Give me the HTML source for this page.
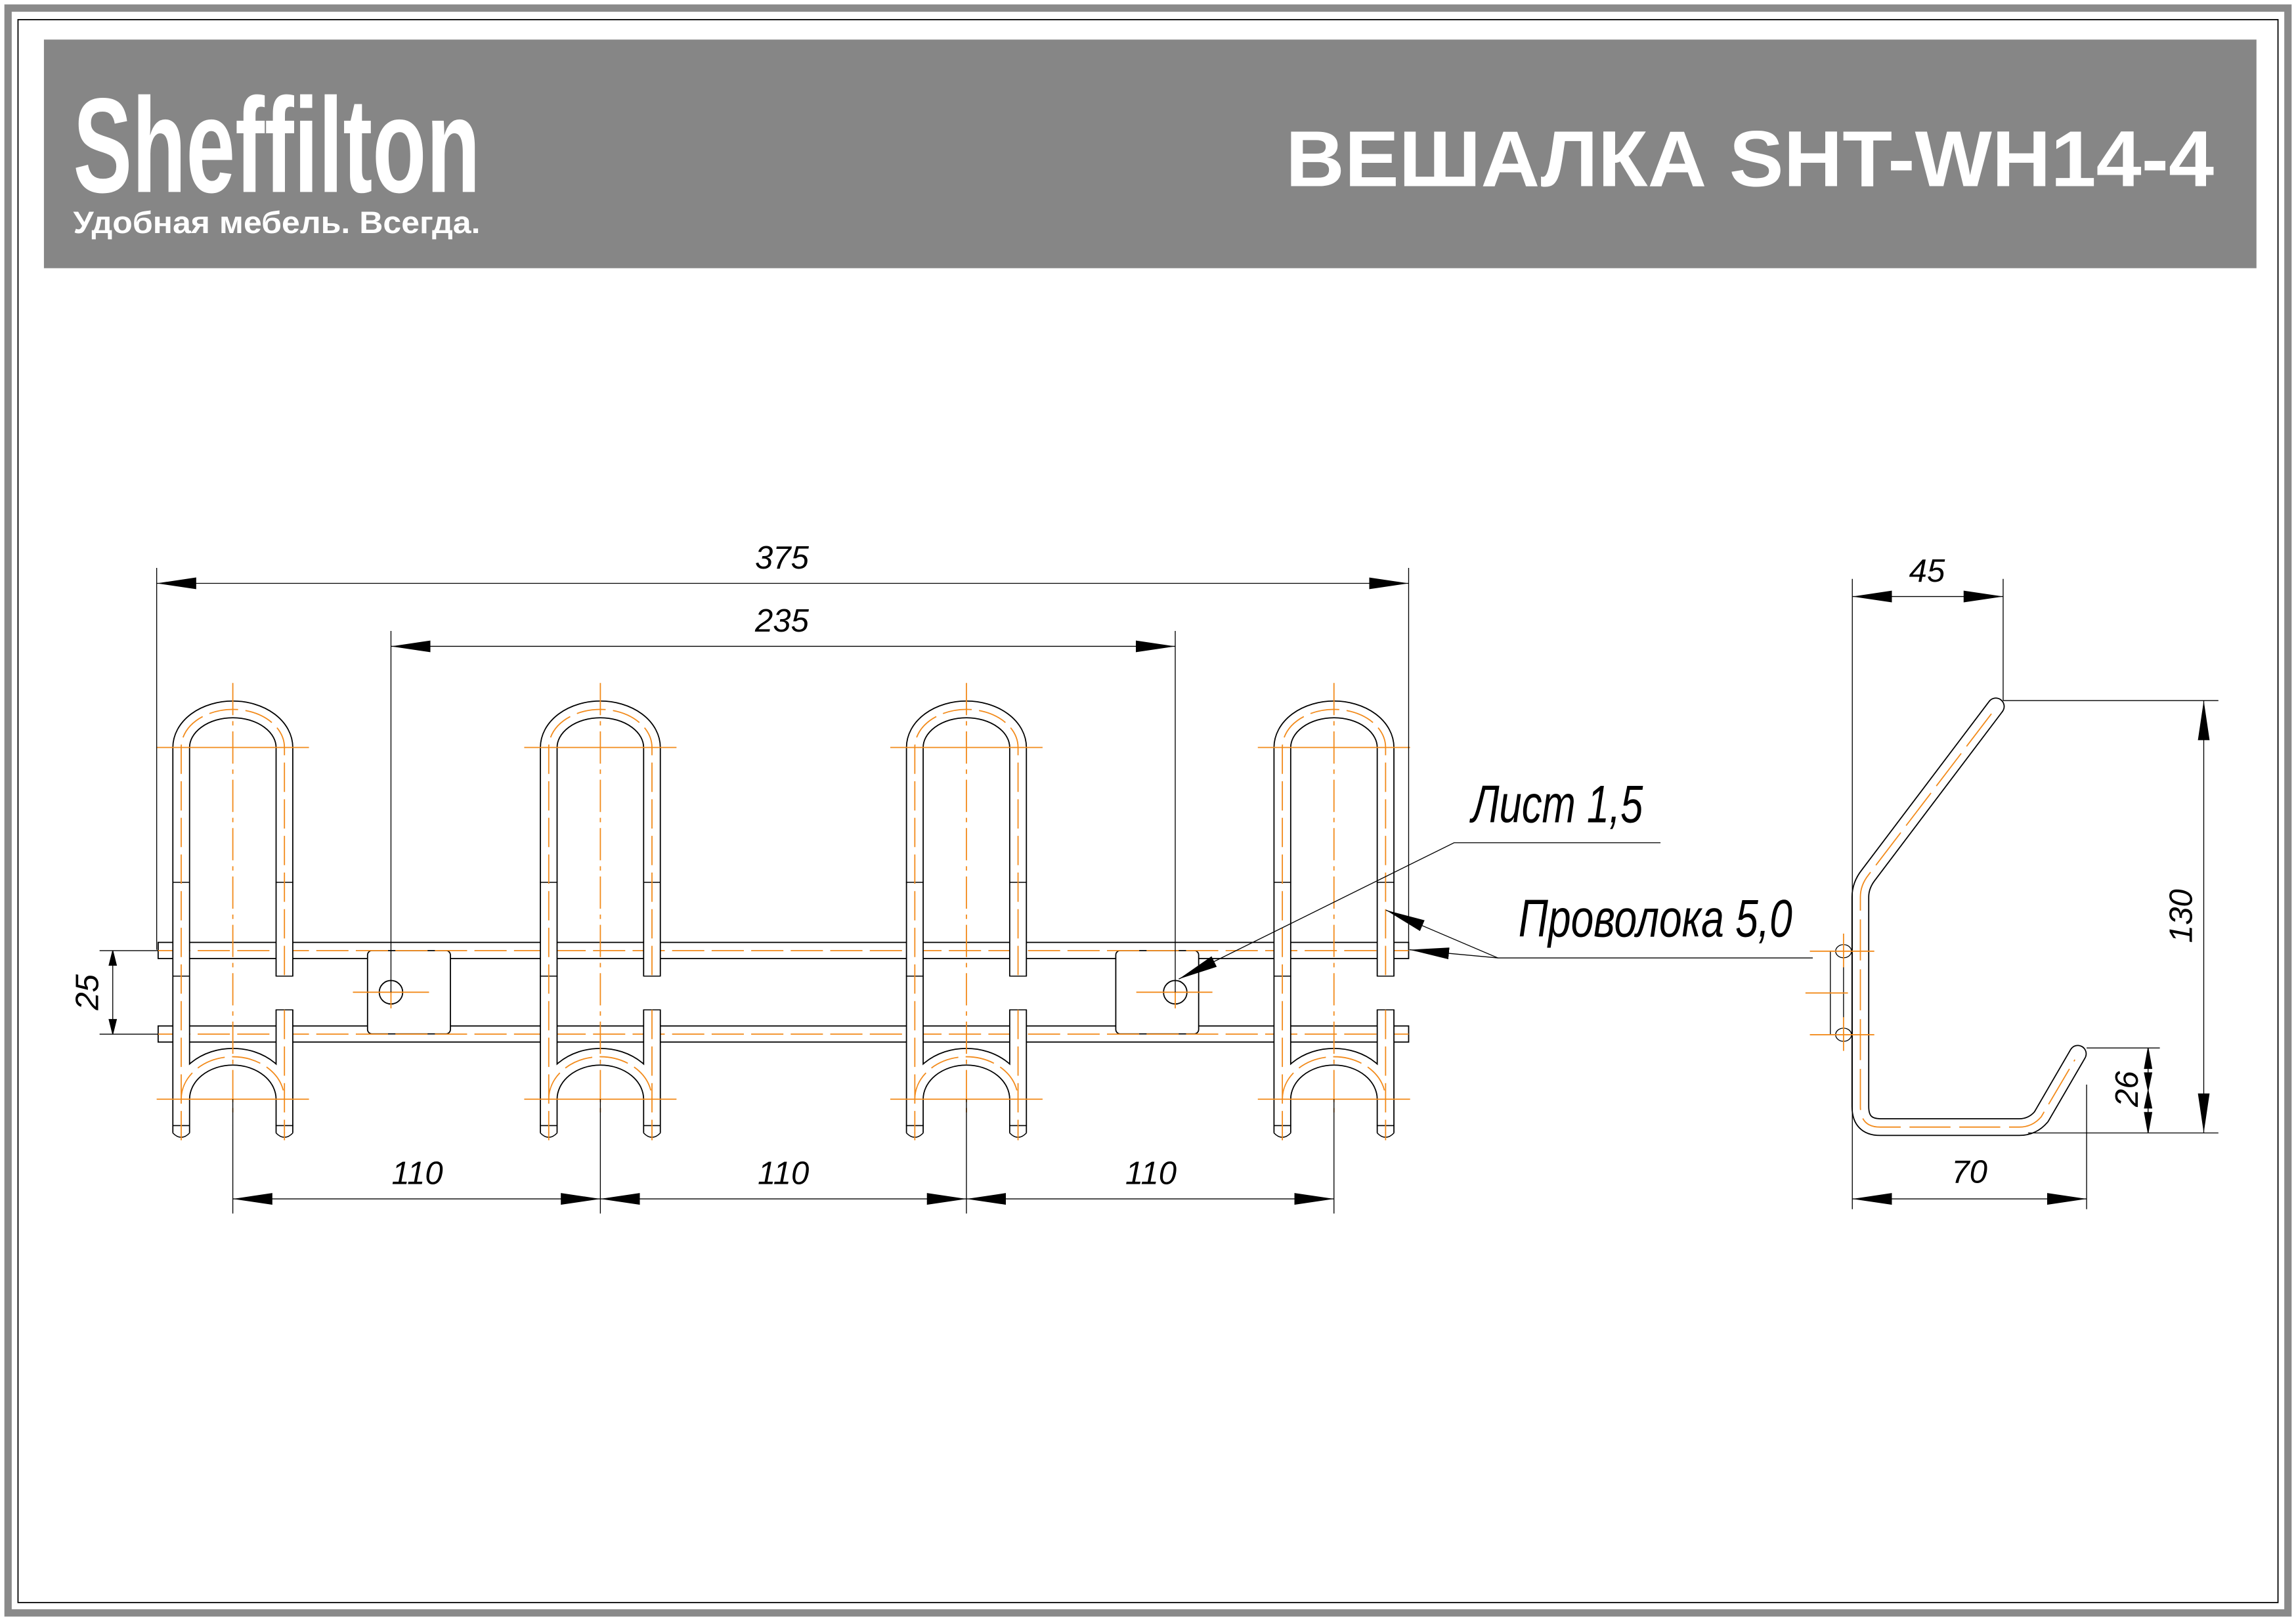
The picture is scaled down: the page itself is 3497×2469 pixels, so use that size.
<!DOCTYPE html>
<html><head><meta charset="utf-8"><style>
html,body{margin:0;padding:0;background:#fff}
svg{display:block}
</style></head><body>
<svg xmlns="http://www.w3.org/2000/svg" width="3497" height="2469" viewBox="0 0 1568 1106" preserveAspectRatio="none">
<defs>
<marker id="ar" viewBox="0 0 27 8" refX="27" refY="4" markerWidth="27" markerHeight="8" markerUnits="userSpaceOnUse" orient="auto">
<path d="M0,0 L27,4 L0,8 Z" fill="#000"/>
</marker>
<marker id="al" viewBox="0 0 27 8" refX="0" refY="4" markerWidth="27" markerHeight="8" markerUnits="userSpaceOnUse" orient="auto">
<path d="M27,0 L0,4 L27,8 Z" fill="#000"/>
</marker>
<g id="hook">
<path d="M-35.25,773 V510 A35.25,26 0 0 1 35.25,510 V666 M35.25,689 V773 M-35.25,750 A35.25,29 0 0 1 35.25,750" fill="none" stroke="#000" stroke-width="12.2"/>
<path d="M-35.25,773 V510 A35.25,26 0 0 1 35.25,510 V666 M35.25,689 V773 M-35.25,750 A35.25,29 0 0 1 35.25,750" fill="none" stroke="#fff" stroke-width="10.6"/>
<path d="M-41.3,666 H-29.2 M29.2,666 H41.3 M29.2,689 H41.3 M-41.3,602 H-29.2 M29.2,602 H41.3 M-41.3,768 H-29.2 M29.2,768 H41.3" stroke="#000" stroke-width="0.7"/>
<path d="M-41,773 Q-35.25,779 -29.5,773 M29.5,773 Q35.25,779 41,773" fill="#fff" stroke="#000" stroke-width="0.7"/>
<path d="M-35.25,778 V510 A35.25,26 0 0 1 35.25,510 V666 M35.25,689 V778 M-35.25,750 A35.25,29 0 0 1 35.25,750" fill="none" stroke="#f28a1a" stroke-width="0.8" stroke-dasharray="20 5"/>
<path d="M0,466 V760" stroke="#f28a1a" stroke-width="0.8" stroke-dasharray="22 4 3 4"/>
<path d="M-52,510 H52 M-52,750 H52" stroke="#f28a1a" stroke-width="0.8"/>
<path d="M0,750 V828" stroke="#000" stroke-width="0.6"/>
</g>
</defs>

<rect x="0" y="0" width="1568" height="1106" fill="#fff"/>
<rect x="5.5" y="5.5" width="1557" height="1095" fill="none" stroke="#8a8a8a" stroke-width="5"/>
<rect x="12.3" y="13.4" width="1543.4" height="1080" fill="none" stroke="#000" stroke-width="0.8"/>

<rect x="30" y="27" width="1511" height="156" fill="#868686"/>
<text x="50" y="131" font-family="Liberation Sans Narrow, Liberation Sans, sans-serif" font-weight="bold" font-size="92" fill="#fff" textLength="278" lengthAdjust="spacingAndGlyphs">Sheffilton</text>
<text x="50" y="159" font-family="Liberation Sans Narrow, Liberation Sans, sans-serif" font-weight="bold" font-size="21" fill="#fff" textLength="278" lengthAdjust="spacingAndGlyphs">Удобная мебель. Всегда.</text>
<text x="878" y="127" font-family="Liberation Sans, sans-serif" font-weight="bold" font-size="54" fill="#fff" textLength="634" lengthAdjust="spacingAndGlyphs">ВЕШАЛКА SHT-WH14-4</text>

<rect x="108" y="643" width="854" height="11" fill="#fff" stroke="#000" stroke-width="0.8"/>
<rect x="108" y="700" width="854" height="11" fill="#fff" stroke="#000" stroke-width="0.8"/>
<rect x="251" y="648.6" width="56.6" height="56.8" rx="3" fill="#fff" stroke="#000" stroke-width="0.8"/>
<circle cx="267" cy="677" r="8" fill="#fff" stroke="#000" stroke-width="0.8"/>
<rect x="762" y="648.6" width="56.6" height="56.8" rx="3" fill="#fff" stroke="#000" stroke-width="0.8"/>
<circle cx="802.6" cy="677" r="8" fill="#fff" stroke="#000" stroke-width="0.8"/>
<path d="M108,648.6 H962 M108,705.6 H962" stroke="#f28a1a" stroke-width="0.8" stroke-dasharray="22 5"/>
<path d="M241,677 H293 M267,677 V688 M776,677 H828 M802.6,677 V688" stroke="#f28a1a" stroke-width="0.8"/>

<use href="#hook" x="159"/>
<use href="#hook" x="410"/>
<use href="#hook" x="660"/>
<use href="#hook" x="911"/>

<g stroke="#000" stroke-width="0.6" fill="none">
<path d="M107,387.5 V648 M962,387.5 V648"/>
<path d="M107,398 H962" marker-start="url(#al)" marker-end="url(#ar)"/>
<path d="M267,430.5 V677 M802.6,430.5 V677"/>
<path d="M267,441 H802.6" marker-start="url(#al)" marker-end="url(#ar)"/>
<path d="M159,818 H410" marker-start="url(#al)" marker-end="url(#ar)"/>
<path d="M410,818 H660" marker-start="url(#al)" marker-end="url(#ar)"/>
<path d="M660,818 H911" marker-start="url(#al)" marker-end="url(#ar)"/>
<path d="M68,648.6 H108 M68,705.6 H108"/>
<path d="M77,648.6 V705.6"/>
<path d="M77,648.6 l-2.5,10 h5 z M77,705.6 l-2.5,-10 h5 z" fill="#000"/>
<path d="M1134,575 H993 L805,668" marker-end="url(#ar)"/>
<path d="M1238,653.6 H1023 L946.5,621" marker-end="url(#ar)"/>
<path d="M1023,653.6 L962.6,648" marker-end="url(#ar)"/>
</g>

<g font-family="Liberation Sans Narrow, Liberation Sans, sans-serif" font-style="italic" font-size="22" fill="#000" text-anchor="middle">
<text x="534" y="388">375</text>
<text x="534" y="431">235</text>
<text x="285" y="808">110</text>
<text x="535" y="808">110</text>
<text x="786" y="808">110</text>
<text transform="translate(67,677) rotate(-90)">25</text>
<text x="1316" y="397">45</text>
<text x="1345" y="807">70</text>
<text transform="translate(1497,625) rotate(-90)">130</text>
<text transform="translate(1460,743) rotate(-90)">26</text>
</g>
<text x="1005" y="561" font-family="Liberation Sans Narrow, Liberation Sans, sans-serif" font-style="italic" font-size="36" textLength="117" lengthAdjust="spacingAndGlyphs">Лист 1,5</text>
<text x="1037" y="639" font-family="Liberation Sans Narrow, Liberation Sans, sans-serif" font-style="italic" font-size="36" textLength="187" lengthAdjust="spacingAndGlyphs">Проволока 5,0</text>

<g fill="none">
<path d="M1363,482 L1276,597 Q1270.5,604 1270.5,612 V755 Q1270.5,769 1284,769 H1379 Q1388,769 1394,762 L1419,719" stroke="#000" stroke-width="12.2" stroke-linejoin="round" stroke-linecap="round"/>
<path d="M1363,482 L1276,597 Q1270.5,604 1270.5,612 V755 Q1270.5,769 1284,769 H1379 Q1388,769 1394,762 L1419,719" stroke="#fff" stroke-width="10.6" stroke-linejoin="round" stroke-linecap="round"/>
<path d="M1360,487 L1276,597 Q1270.5,604 1270.5,612 V755 Q1270.5,769 1284,769 H1379 Q1388,769 1394,762 L1417,723" stroke="#f28a1a" stroke-width="0.8" stroke-dasharray="28 6"/>
</g>
<g stroke="#000" stroke-width="0.6" fill="none">
<rect x="1250" y="649" width="9" height="57" fill="#fff"/>
<ellipse cx="1259" cy="649" rx="5.4" ry="4.5" fill="#fff"/>
<ellipse cx="1259" cy="706" rx="5.4" ry="4.5" fill="#fff"/>
<path d="M1265,395 V825"/>
<path d="M1368,395 V478 M1368,478 H1515 M1385,773 H1515 M1425,715 H1475 M1425,740 V825"/>
<path d="M1265,407 H1368" marker-start="url(#al)" marker-end="url(#ar)"/>
<path d="M1505,478 V773" marker-start="url(#al)" marker-end="url(#ar)"/>
<path d="M1265,818 H1425" marker-start="url(#al)" marker-end="url(#ar)"/>
<path d="M1467,715 V773"/>
<path d="M1467,715 l-2.5,14 h5 z M1467,773 l-2.5,-14 h5 z M1467,744 l-2.5,-12 h5 z M1467,744 l-2.5,12 h5 z" fill="#000"/>
</g>
<path d="M1236,649 H1280 M1236,706 H1280 M1233,677.5 H1262 M1259,637 V660 M1259,694 V717" stroke="#f28a1a" stroke-width="0.8"/>
</svg>
</body></html>
